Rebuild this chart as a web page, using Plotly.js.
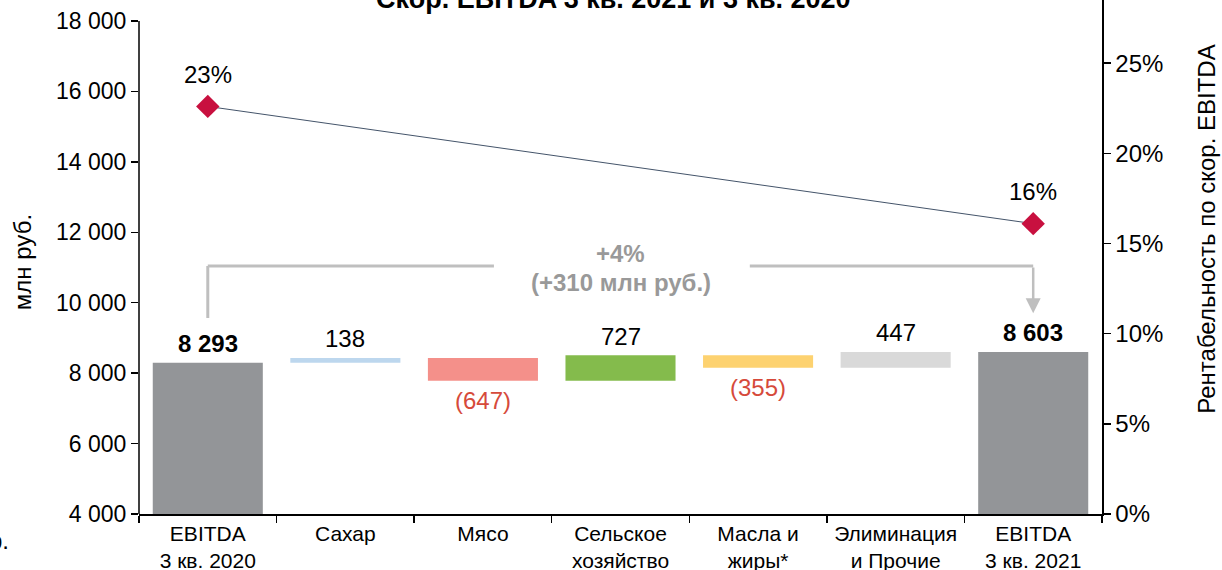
<!DOCTYPE html>
<html>
<head>
<meta charset="utf-8">
<script src="https://cdn.plot.ly/plotly-3.0.1.min.js"></script>
<style>html,body{margin:0;padding:0;background:#fff;}#chart{width:1222px;height:570px;}</style>
</head>
<body>
<div id="chart"></div>
<script>
// ---- data ----
const categories = ['EBITDA<br>3 кв. 2020', 'Сахар', 'Мясо', 'Сельское<br>хозяйство', 'Масла и<br>жиры*', 'Элиминация<br>и Прочие', 'EBITDA<br>3 кв. 2021'];
const startTotal = 8293;
const deltas = [138, -647, 727, -355, 447];
const endTotal = 8603;
const marginCategories = ['EBITDA<br>3 кв. 2020', 'EBITDA<br>3 кв. 2021'];
const marginValues = [0.226, 0.161];
const barColors = ['#939598', '#BDD7EE', '#F4908A', '#84BB4C', '#FDD270', '#D9D9D9', '#939598'];
const leftTicks = [4000, 6000, 8000, 10000, 12000, 14000, 16000, 18000];
const rightTicks = [0, 0.05, 0.10, 0.15, 0.20, 0.25];

const FONT = 'Liberation Sans, Arial, sans-serif';
const fmt = v => Math.round(v).toString().replace(/\B(?=(\d{3})+(?!\d))/g, ' ');

// waterfall bases and heights
const bases = [4000], heights = [startTotal - 4000];
let running = startTotal;
const tops = [startTotal], bottoms = [4000];
deltas.forEach(d => {
  const next = running + d;
  bases.push(Math.min(running, next));
  heights.push(Math.abs(d));
  tops.push(Math.max(running, next));
  bottoms.push(Math.min(running, next));
  running = next;
});
bases.push(4000); heights.push(endTotal - 4000);
tops.push(endTotal); bottoms.push(4000);

const bars = {
  type: 'bar', x: categories, y: heights, base: bases,
  marker: {color: barColors, line: {width: 0}}, width: 0.8,
  hoverinfo: 'skip', yaxis: 'y', xaxis: 'x'
};
const line = {
  type: 'scatter', mode: 'lines+markers', x: marginCategories, y: marginValues,
  yaxis: 'y2', xaxis: 'x',
  line: {color: '#44546A', width: 1},
  marker: {symbol: 'diamond', size: 18, color: '#C8103F'},
  hoverinfo: 'skip'
};

const annotations = [];
// value labels
const values = [startTotal].concat(deltas, [endTotal]);
values.forEach((v, i) => {
  const isTotal = (i === 0 || i === values.length - 1);
  if (isTotal || v >= 0) {
    annotations.push({x: categories[i], y: tops[i], xref: 'x', yref: 'y', yanchor: 'middle', yshift: 19,
      text: isTotal ? '<b>' + fmt(v) + '</b>' : fmt(v), showarrow: false,
      font: {family: FONT, size: 24, color: '#000'}});
  } else {
    annotations.push({x: categories[i], y: bottoms[i], xref: 'x', yref: 'y', yanchor: 'middle', yshift: -20,
      text: '(' + fmt(-v) + ')', showarrow: false,
      font: {family: FONT, size: 24, color: '#D64A3B'}});
  }
});
// margin labels
marginValues.forEach((m, i) => {
  annotations.push({x: marginCategories[i], y: m, xref: 'x', yref: 'y2', yanchor: 'middle', yshift: 32,
    text: Math.round(m * 100) + '%', showarrow: false, font: {family: FONT, size: 24, color: '#000'}});
});
// change text
const diff = endTotal - startTotal;
const pct = Math.round(diff / startTotal * 100);
annotations.push({x: 3, y: 11384, xref: 'x', yref: 'y', showarrow: false, yanchor: 'middle',
  text: '<b>' + (pct >= 0 ? '+' : '') + pct + '%</b>', font: {family: FONT, size: 24, color: '#999999'}});
annotations.push({x: 3, y: 10561, xref: 'x', yref: 'y', showarrow: false, yanchor: 'middle',
  text: '<b>(' + (diff >= 0 ? '+' : '') + diff + ' млн руб.)</b>', font: {family: FONT, size: 24, color: '#999999'}});
// arrow
annotations.push({x: 6, y: 9700, ax: 6, ay: 11043, xref: 'x', yref: 'y', axref: 'x', ayref: 'y',
  text: '', showarrow: true, arrowhead: 2, arrowsize: 1.2, arrowwidth: 2.5, arrowcolor: '#BFBFBF'});
// title (cut at top)
annotations.push({x: 0.4925, y: 1, xref: 'paper', yref: 'paper', xanchor: 'center', yanchor: 'bottom', yshift: -16,
  text: '<b>Скор. EBITDA 3 кв. 2021 и 3 кв. 2020</b>', showarrow: false, font: {family: FONT, size: 27, color: '#000'}});
// axis titles
annotations.push({x: -0.1215, y: 0.49, xref: 'paper', yref: 'paper', xanchor: 'center', yanchor: 'middle',
  text: 'млн руб.', textangle: -90, showarrow: false, font: {family: FONT, size: 24, color: '#000'}});
annotations.push({x: 1.1085, y: 0.554, xref: 'paper', yref: 'paper', xanchor: 'center', yanchor: 'middle',
  text: 'Рентабельность по скор. EBITDA', textangle: -90, showarrow: false, font: {family: FONT, size: 24, color: '#000'}});
// cut footnote fragment
annotations.push({x: -0.1329, y: -0.0506, xref: 'paper', yref: 'paper', xanchor: 'right', yanchor: 'middle',
  text: 'р.', showarrow: false, font: {family: FONT, size: 24, color: '#000'}});

const shapes = [
  {type: 'line', xref: 'paper', yref: 'y', x0: 0, x1: 0, y0: 4000, y1: 18000, line: {color: '#000', width: 1.5}},
  {type: 'line', xref: 'x', yref: 'y', x0: 0, x1: 0, y0: 9566, y1: 11043, line: {color: '#BFBFBF', width: 3}},
  {type: 'line', xref: 'x', yref: 'y', x0: 0, x1: 2.08, y0: 11043, y1: 11043, line: {color: '#BFBFBF', width: 3}},
  {type: 'line', xref: 'x', yref: 'y', x0: 3.94, x1: 6, y0: 11043, y1: 11043, line: {color: '#BFBFBF', width: 3}}
];

const layout = {
  width: 1222, height: 570,
  margin: {l: 139, r: 120, t: 0, b: 56, pad: 0},
  paper_bgcolor: '#fff', plot_bgcolor: '#fff',
  separators: ', ',
  showlegend: false,
  font: {family: FONT, size: 22, color: '#000'},
  xaxis: {type: 'category', range: [-0.5, 6.5], showline: true, linecolor: '#000', linewidth: 1.5,
    ticks: 'outside', tickson: 'boundaries', ticklen: 7, tickcolor: '#000', tickwidth: 1.5, tickangle: 0,
    showgrid: false, zeroline: false, tickfont: {family: FONT, size: 21, color: '#000'}},
  yaxis: {range: [4000, 18596], tickvals: leftTicks, tickformat: ',d', showline: false, showgrid: false, zeroline: false,
    ticks: 'outside', ticklen: 7, tickcolor: '#000', tickwidth: 1.5, tickfont: {family: FONT, size: 23, color: '#000'}},
  yaxis2: {overlaying: 'y', side: 'right', range: [0, 0.285], tickvals: rightTicks, tickformat: '.0%',
    showline: true, linecolor: '#000', linewidth: 1.5, showgrid: false, zeroline: false,
    ticks: 'outside', ticklen: 7, tickcolor: '#000', tickwidth: 1.5, tickfont: {family: FONT, size: 24, color: '#000'}},
  annotations: annotations,
  shapes: shapes
};

Plotly.newPlot('chart', [bars, line], layout, {displayModeBar: false, staticPlot: true});
</script>
</body>
</html>
